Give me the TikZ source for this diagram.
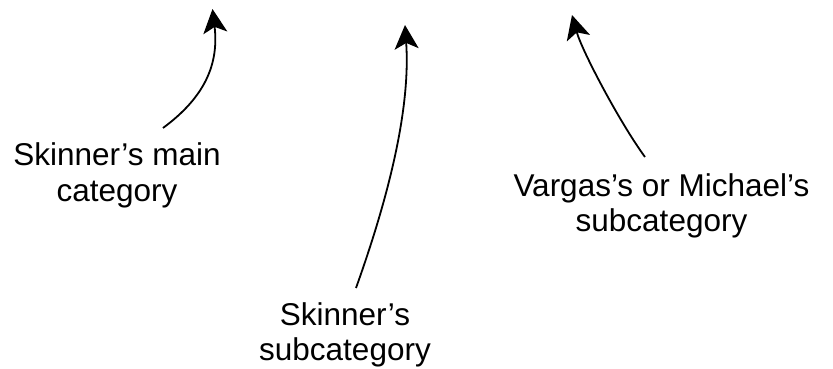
\documentclass[tikz,border=0pt]{standalone}
\usepackage{fontspec}
\setmainfont{Liberation Sans}
\usetikzlibrary{arrows.meta}
\begin{document}
\begin{tikzpicture}[x=1pt,y=1pt,
  lbl/.style={align=center,inner sep=0pt,font=\fontsize{31.5}{35.5}\selectfont},
  curvearrow/.style={line width=1.8pt,-{Stealth[length=24pt,width=24pt,inset=6pt]}}]
\useasboundingbox (0,0) rectangle (833,369);
\node[lbl] (main) at (117,193.5) {Skinner’s main\\category};
\node[lbl] (sub) at (345,34.2) {Skinner’s\\subcategory};
\node[lbl] (varg) at (661.5,163) {Vargas’s or Michael’s\\subcategory};
\coordinate (s1) at (163,241);
\coordinate (t1) at (212.5,360);
\coordinate (s2) at (356,81);
\coordinate (t2) at (405,344);
\coordinate (s3) at (645,212);
\coordinate (t3) at (572,354);
\draw[curvearrow] (s1) .. controls (205,272) and (219,305) .. (t1);
\draw[curvearrow] (s2) .. controls (395,190) and (410,270) .. (t2);
\draw[curvearrow] (s3) .. controls (620,246) and (582,318) .. (t3);
\end{tikzpicture}
\end{document}
